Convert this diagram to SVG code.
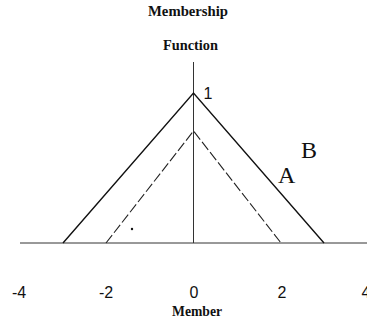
<svg xmlns="http://www.w3.org/2000/svg" width="367" height="323" viewBox="0 0 367 323">
  <style>
    .title { font-family: "Liberation Serif", "Times New Roman", serif; font-weight: bold; font-size: 14px; fill: #111; text-anchor: middle; }
    .tick { font-family: "Liberation Sans", Arial, sans-serif; font-size: 16px; fill: #111; text-anchor: middle; }
    .curve-label { font-family: "Liberation Serif", "Times New Roman", serif; font-size: 24px; fill: #111; }
    .axis { stroke: #333; stroke-width: 1; fill: none; }
    .solid { stroke: #111; stroke-width: 1.4; fill: none; }
    .dashed { stroke: #222; stroke-width: 1.1; fill: none; stroke-dasharray: 10 3; }
  </style>
  <rect width="367" height="323" fill="#fff"/>

  <!-- titles -->
  <g id="titles">
    <text class="title" x="188" y="16" textLength="80" lengthAdjust="spacingAndGlyphs">Membership</text>
    <text class="title" x="190.5" y="50" textLength="55" lengthAdjust="spacingAndGlyphs">Function</text>
    <text class="title" x="197" y="316" textLength="50" lengthAdjust="spacingAndGlyphs">Member</text>
  </g>

  <!-- axes -->
  <g id="axes">
    <line class="axis" x1="20" y1="243" x2="367" y2="243"/>
    <line class="axis" x1="193.5" y1="62" x2="193.5" y2="243"/>
  </g>

  <!-- membership functions -->
  <g id="curves">
    <polyline id="curve-B" class="solid" points="63,243 193.5,93 324,243"/>
    <polyline id="curve-A" class="dashed" points="106,243 193.5,131 281,243"/>
    <circle cx="132" cy="229" r="1.2" fill="#111"/>
  </g>

  <!-- labels -->
  <g id="labels">
    <text class="tick" x="208" y="99">1</text>
    <text class="curve-label" x="278" y="183">A</text>
    <text class="curve-label" x="301" y="158">B</text>
    <text class="tick" x="19" y="298">-4</text>
    <text class="tick" x="106" y="298">-2</text>
    <text class="tick" x="194" y="298">0</text>
    <text class="tick" x="282" y="298">2</text>
    <text class="tick" x="366" y="298" text-anchor="start">4</text>
  </g>
</svg>
